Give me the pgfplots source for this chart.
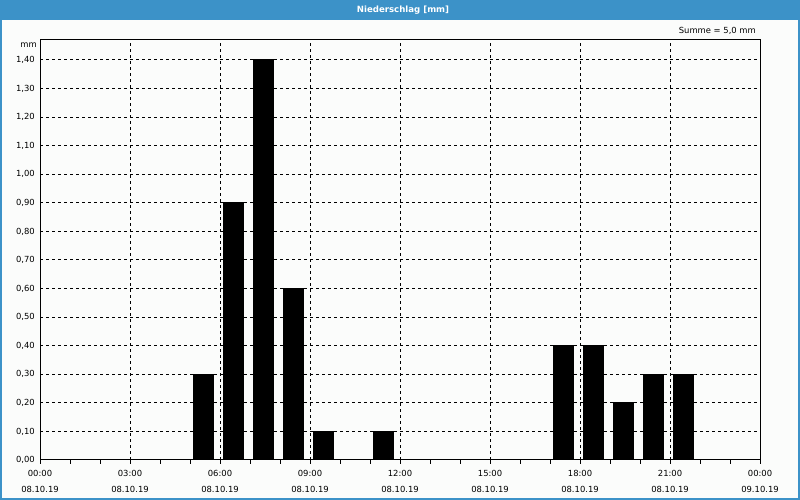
\documentclass[border=0pt]{standalone}
\usepackage{fontspec}
\setmainfont{DejaVu Sans}
\usepackage{pgfplots}
\pgfplotsset{compat=1.18}
\definecolor{titleblue}{RGB}{60,146,200}
\definecolor{bgc}{RGB}{251,252,251}
\begin{document}
\fontsize{8.4bp}{10bp}\selectfont
\begin{tikzpicture}[x=1bp,y=1bp]
\useasboundingbox (0,0) rectangle (800,500);
\fill[bgc] (0,0) rectangle (800,500);
\fill[titleblue] (0,480) rectangle (800,500);
\draw[titleblue, line width=2bp] (1,1) rectangle (799,499);
\node[text=white, font=\bfseries\fontsize{8.6bp}{10bp}\selectfont] at (403,490) {Niederschlag [mm]};
\node[anchor=east, inner sep=0pt, font=\fontsize{8.4bp}{10bp}\selectfont] at (756,469) {Summe = 5,0 mm};
\node[anchor=east, inner sep=0pt, font=\fontsize{8.4bp}{10bp}\selectfont] at (37,455) {mm};
\begin{axis}[
  at={(40bp,40bp)}, anchor=south west,
  scale only axis, width=720bp, height=420bp,
  xmin=0, xmax=24, ymin=0, ymax=1.47,
  axis line style={black, line width=1bp},
  xtick={0,3,6,9,12,15,18,21,24},
  minor xtick={1,2,4,5,7,8,10,11,13,14,16,17,19,20,22,23},
  xticklabels={{00:00\\08.10.19},{03:00\\08.10.19},{06:00\\08.10.19},{09:00\\08.10.19},{12:00\\08.10.19},{15:00\\08.10.19},{18:00\\08.10.19},{21:00\\08.10.19},{00:00\\09.10.19}},
  xticklabel style={align=center, font=\fontsize{8.4bp}{16bp}\selectfont, inner sep=0pt, yshift=-6bp},
  ytick={0,0.1,0.2,0.3,0.4,0.5,0.6,0.7,0.8,0.9,1.0,1.1,1.2,1.3,1.4},
  yticklabel style={font=\fontsize{8.4bp}{10bp}\selectfont, inner sep=0pt, xshift=-1bp, /pgf/number format/.cd, fixed, fixed zerofill, precision=2, use comma, assume math mode=true},
  xtick pos=bottom, ytick pos=left,
  tick align=outside,
  major tick length=4bp, minor tick length=4bp,
  every tick/.style={black, line width=1bp},
  ytick style={draw=none},
  grid=major,
  major grid style={black, line width=1bp, dash pattern=on 3bp off 3bp},
  clip=false,
]
\addplot[ybar, fill=black, draw=black, line width=1bp, bar width=0.655, bar shift=0] coordinates {
(5.45,0.3) (6.45,0.9) (7.45,1.4) (8.45,0.6) (9.45,0.1) (11.45,0.1)
(17.45,0.4) (18.45,0.4) (19.45,0.2) (20.45,0.3) (21.45,0.3)
};
\end{axis}
\end{tikzpicture}
\end{document}
